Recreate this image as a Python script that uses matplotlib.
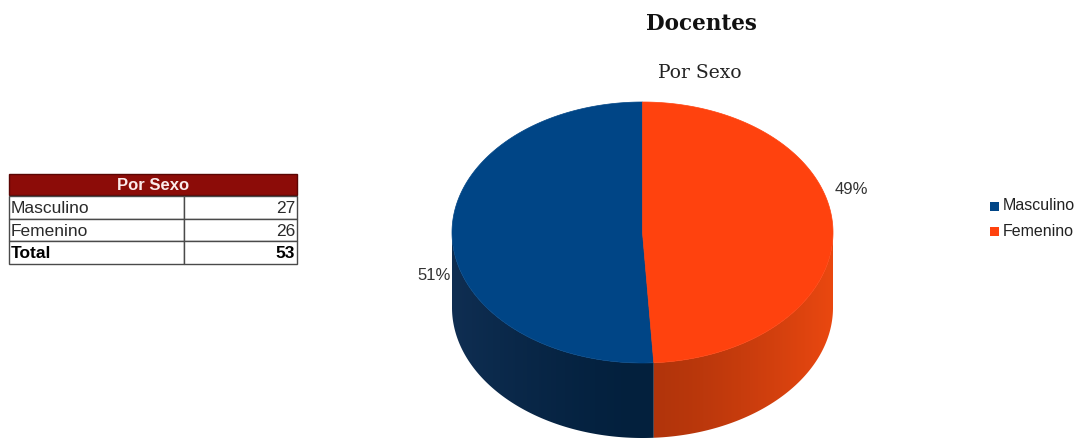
import numpy as np
import matplotlib.pyplot as plt
from matplotlib.patches import Polygon, Rectangle
from matplotlib.colors import to_rgb

# ==========================================
# Datos
# ==========================================

CATEGORIES = ["Masculino", "Femenino"]
COUNTS = [27, 26]

TITLE = "Docentes"
SUBTITLE = "Por Sexo"
TABLE_HEADER = "Por Sexo"
TOTAL_LABEL = "Total"

# colores (cara superior, lateral claro, lateral oscuro)
TOP_COLORS = ["#004586", "#ff420e"]
SIDE_LIGHT = ["#0f2e52", "#ea4810"]
SIDE_DARK = ["#03203d", "#b0340b"]

# ==========================================
# Geometria del pastel 3D (pixeles)
# ==========================================

W, H = 1089, 441
CX, CY = 642.5, 232.5
RX, RY = 190.5, 130.5
DEPTH = 75

fig = plt.figure(figsize=(W / 100, H / 100), dpi=100)
ax = fig.add_axes([0, 0, 1, 1])
ax.set_xlim(0, W)
ax.set_ylim(H, 0)
ax.axis("off")


def ellipse_pt(phi_deg, dy=0.0):
    phi = np.radians(phi_deg)
    return CX + RX * np.cos(phi), CY - RY * np.sin(phi) + dy


total = sum(COUNTS)
fracs = [c / total for c in COUNTS]

# Masculino empieza arriba y gira en sentido antihorario
wedges = []
start = 90.0
for f in fracs:
    end = start + 360.0 * f
    wedges.append((start, end))
    start = end

# ---- caras laterales (solo la mitad frontal), con degradado ----
xs = np.linspace(CX - RX, CX + RX, 400)
t = np.abs((xs - CX) / RX) ** 1.4
for i, (a0, a1) in enumerate(wedges):
    # tramo visible del arco: angulos entre 180 y 360
    lo = max(a0, 180.0)
    hi = min(a1, 360.0)
    if hi <= lo:
        continue
    phis = np.linspace(lo, hi, 300)
    top = [ellipse_pt(p) for p in phis]
    bot = [ellipse_pt(p, DEPTH) for p in phis[::-1]]
    poly = Polygon(top + bot, closed=True, facecolor="none", edgecolor="none")
    ax.add_patch(poly)

    dark = np.array(to_rgb(SIDE_DARK[i]))
    light = np.array(to_rgb(SIDE_LIGHT[i]))
    grad = dark[None, :] + (light - dark)[None, :] * t[:, None]
    img = ax.imshow(grad[None, :, :], extent=(CX - RX, CX + RX,
                    CY + RY + DEPTH, CY - 2), aspect="auto",
                    interpolation="bilinear", zorder=1)
    img.set_clip_path(poly)

# ---- caras superiores ----
for i, (a0, a1) in enumerate(wedges):
    phis = np.linspace(a0, a1, 300)
    pts = [(CX, CY)] + [ellipse_pt(p) for p in phis]
    ax.add_patch(Polygon(pts, closed=True, facecolor=TOP_COLORS[i],
                         edgecolor=TOP_COLORS[i], linewidth=0.5, zorder=2))

ax.set_xlim(0, W)
ax.set_ylim(H, 0)

# ---- etiquetas de porcentaje ----
for i, (a0, a1) in enumerate(wedges):
    mid = (a0 + a1) / 2
    x, y = ellipse_pt(mid)
    side = 1 if np.cos(np.radians(mid)) >= 0 else -1
    pct = "%d%%" % round(100 * fracs[i])
    ax.text(x + side * 18, y - side * 39, pct, ha="center", va="center",
            fontsize=12, family="Liberation Sans", color="#333333", zorder=3)

# ==========================================
# Titulos
# ==========================================

ax.text(701, 24, TITLE, ha="center", va="center", fontsize=15.5,
        family="DejaVu Serif", fontweight="bold", color="#111111")
ax.text(700, 73, SUBTITLE, ha="center", va="center", fontsize=13.5,
        family="DejaVu Serif", color="#222222")

# ==========================================
# Leyenda
# ==========================================

for i, name in enumerate(CATEGORIES):
    ly = 206 + i * 25
    ax.add_patch(Rectangle((990, ly - 4.5), 9, 9, facecolor=TOP_COLORS[i],
                           edgecolor="none"))
    ax.text(1003, ly, name, ha="left", va="center", fontsize=11.5,
            family="Liberation Sans", color="#222222")

# ==========================================
# Tabla
# ==========================================

TX0, TX1, TXC = 9, 297, 184
HEAD_Y0, HEAD_Y1 = 174, 195
ROW_H = 22.7

ax.add_patch(Rectangle((TX0, HEAD_Y0), TX1 - TX0, HEAD_Y1 - HEAD_Y0,
                       facecolor="#8c0c08", edgecolor="#5a0503",
                       linewidth=1.0))
ax.text((TX0 + TX1) / 2, (HEAD_Y0 + HEAD_Y1) / 2 + 1, TABLE_HEADER,
        ha="center", va="center", fontsize=12, fontweight="bold",
        family="Liberation Sans", color="#fbeaea")

rows = list(zip(CATEGORIES, COUNTS)) + [(TOTAL_LABEL, total)]
for r, (name, val) in enumerate(rows):
    y0 = HEAD_Y1 + 1 + r * ROW_H
    for xa, xb in [(TX0, TXC), (TXC, TX1)]:
        ax.add_patch(Rectangle((xa, y0), xb - xa, ROW_H, facecolor="white",
                               edgecolor="#4a4a4a", linewidth=1.0))
    weight = "bold" if name == TOTAL_LABEL else "normal"
    color = "#000000" if name == TOTAL_LABEL else "#2a2a2a"
    ax.text(TX0 + 2, y0 + ROW_H / 2 + 1, name, ha="left", va="center",
            fontsize=12.5, fontweight=weight, family="Liberation Sans",
            color=color)
    ax.text(TX1 - 2, y0 + ROW_H / 2 + 1, str(val), ha="right", va="center",
            fontsize=12.5, fontweight=weight, family="Liberation Sans",
            color=color)

fig.savefig("out.png", dpi=100)
